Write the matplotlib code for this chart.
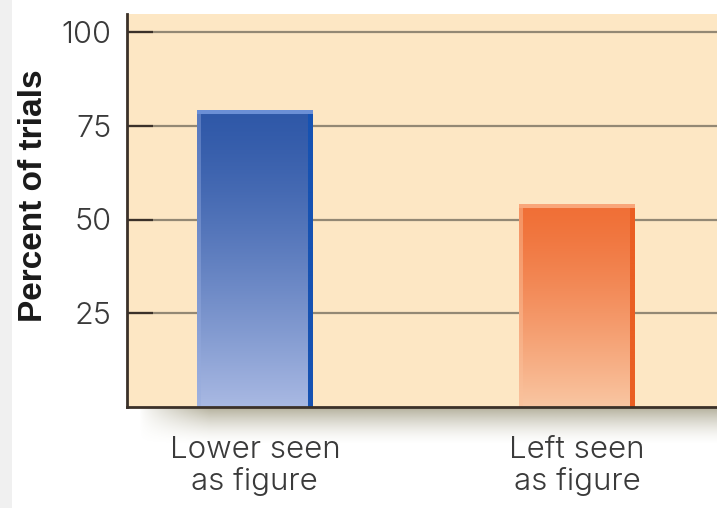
import numpy as np
import matplotlib
matplotlib.use("Agg")
import matplotlib.pyplot as plt
from matplotlib.colors import to_rgb
from matplotlib.patches import Rectangle

# ---- data ----
categories = ["Lower seen\nas figure", "Left seen\nas figure"]
values = [79, 54]
yticks = [25, 50, 75, 100]
ytick_labels = ["25", "50", "75", "100"]

# ---- styles ----
bar_styles = [
    dict(top="#2f58a8", bottom="#a9b9e3", right="#1652b2", left="#7f9ad6", cap="#6b8fd6"),
    dict(top="#f06f36", bottom="#f9c6a2", right="#ea5e22", left="#fbb890", cap="#f9a67a"),
]
bg_color = "#fde7c4"
grid_color = "#938874"
spine_color = "#3b3129"
text_color = "#3a3a3a"
light_font = "Inter"

W, H, DPI = 717, 508, 100
fig = plt.figure(figsize=(W / DPI, H / DPI), dpi=DPI, facecolor="white")

# light grey strip on the far left
fig.patches.append(Rectangle((0, 0), 12 / W, 1, transform=fig.transFigure,
                             facecolor="#f0f0f0", edgecolor="none", zorder=0))

ax_left, ax_bottom_px, ax_top_px = 127, 407, 14
ax = fig.add_axes([ax_left / W, (H - ax_bottom_px) / H, 1 - ax_left / W,
                   (ax_bottom_px - ax_top_px) / H])
ax.set_facecolor(bg_color)
ax.set_xlim(-0.397, 1.435)
ax.set_ylim(0, 104.8)

# shadow below x axis
sh_ax = fig.add_axes([ax_left / W, (H - 445) / H, 1 - ax_left / W, 37 / H], zorder=-1)
sh_ax.axis("off")
ny, nx = 60, 300
ty = np.linspace(0, 1, ny)[:, None]
tx = np.linspace(0, 1, nx)[None, :]
alpha = 0.75 * (1 - ty) ** 1.6 * np.clip((tx - 0.02) / 0.12, 0, 1) ** 0.8
img = np.zeros((ny, nx, 4))
img[..., 0], img[..., 1], img[..., 2] = 0.62, 0.60, 0.50
img[..., 3] = alpha
sh_ax.imshow(img, aspect="auto", extent=[0, 1, 0, 1], interpolation="bilinear")
sh_ax.set_xlim(0, 1)
sh_ax.set_ylim(0, 1)

# grid
ax.set_yticks(yticks)
ax.set_yticklabels(ytick_labels)
ax.yaxis.grid(True, color=grid_color, linewidth=1.6, zorder=1)
ax.set_axisbelow(True)

# bars
x = np.arange(len(categories))
bars = ax.bar(x, values, width=0.36, color="none", edgecolor="none", zorder=3)

fig.canvas.draw()
px_per_x = ax.transData.transform((1, 0))[0] - ax.transData.transform((0, 0))[0]
px_per_y = ax.transData.transform((0, 1))[1] - ax.transData.transform((0, 0))[1]

for b, st in zip(bars, bar_styles):
    bx, bw, bh = b.get_x(), b.get_width(), b.get_height()
    wpx = int(round(bw * px_per_x))
    hpx = int(round(bh * px_per_y))
    t = np.linspace(0, 1, hpx)[:, None, None]
    top = np.array(to_rgb(st["top"]))
    bot = np.array(to_rgb(st["bottom"]))
    grad = top + (bot - top) * t ** 1.3
    im = np.repeat(grad, wpx, axis=1)
    lft = np.array(to_rgb(st["left"]))
    im[:, :4, :] = 0.5 * im[:, :4, :] + 0.5 * (lft + (bot - lft) * t * 0.6)
    im[:, -5:, :] = np.array(to_rgb(st["right"]))
    im[:4, :, :] = np.array(to_rgb(st["cap"]))
    ax.imshow(im, aspect="auto", extent=[bx, bx + bw, 0, bh], zorder=3,
              interpolation="bilinear")

ax.set_xlim(-0.397, 1.435)
ax.set_ylim(0, 104.8)

# axes styling
for s in ["top", "right"]:
    ax.spines[s].set_visible(False)
for s in ["left", "bottom"]:
    ax.spines[s].set_color(spine_color)
    ax.spines[s].set_linewidth(2.0)
    ax.spines[s].set_zorder(5)

ax.tick_params(axis="y", direction="in", length=19, width=1.6, color=spine_color,
               pad=11, labelsize=22, labelcolor=text_color)
for lab in ax.get_yticklabels():
    lab.set_family(light_font)
    lab.set_fontweight(300)

ax.set_xticks(x)
ax.set_xticklabels(categories, fontsize=22.5, color=text_color, family=light_font,
                   fontweight=300, linespacing=1.12)
ax.tick_params(axis="x", length=0, pad=21)

ax.set_ylabel("Percent of trials", fontsize=24, fontweight="bold",
              family="Liberation Sans", color="#1a1a1a", va="center")
ax.yaxis.set_label_coords(-0.159, 0.537)

fig.savefig("out.png", dpi=DPI, facecolor="white")
